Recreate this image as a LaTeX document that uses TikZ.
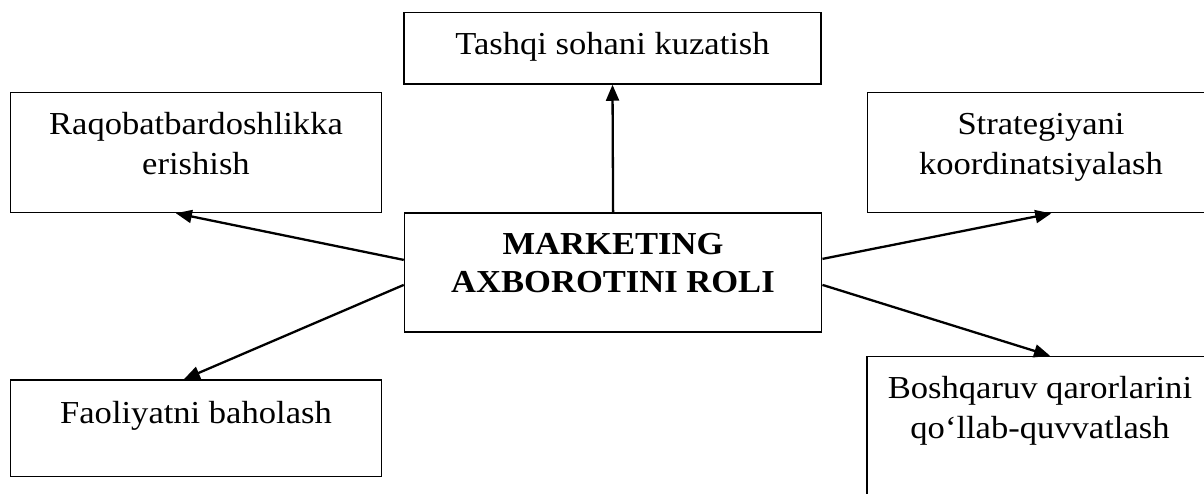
\documentclass[tikz,border=0pt]{standalone}
\usepackage{fontspec}
\setmainfont{Liberation Serif}[FakeStretch=1.08]
\usetikzlibrary{arrows.meta}
\begin{document}
\begin{tikzpicture}[x=1pt,y=-1pt,
  boxnode/.style={draw=black, line width=1.5pt, rectangle, inner sep=0pt},
  txt/.style={anchor=base, inner sep=0pt, font=\fontsize{32}{40.5}\selectfont},
  conn/.style={line width=2.3pt, -{Triangle[length=16pt,width=13pt]}}]
\useasboundingbox (0,0) rectangle (1204,494);
\fill[white] (0,0) rectangle (1204,494);
\clip (0,0) rectangle (1204,494);
% boxes
\node[boxnode, minimum width=417pt, minimum height=71.5pt] (t) at (612.5,48.25) {};
\node[boxnode, minimum width=371.2pt, minimum height=119.8pt] (r) at (195.9,152.6) {};
\node[boxnode, minimum width=417.2pt, minimum height=119.2pt] (c) at (613.1,272.4) {};
\node[boxnode, minimum width=347.5pt, minimum height=120pt] (s) at (1041.25,152.7) {};
\node[boxnode, minimum width=371.2pt, minimum height=96.7pt] (f) at (195.9,428.35) {};
\node[boxnode, minimum width=348pt, minimum height=173.5pt] (b) at (1041,443.25) {};
% texts
\node[txt] (tt) at (612.5,55) {Tashqi sohani kuzatish};
\node[txt] (tr) at (196,134.5) {\parbox[t]{360pt}{\centering Raqobatbardoshlikka\\erishish}};
\node[txt] (tc) at (613,254.5) {\parbox[t]{400pt}{\centering\bfseries\baselineskip=38pt MARKETING\\AXBOROTINI ROLI}};
\node[txt] (ts) at (1041,134.5) {\parbox[t]{330pt}{\centering Strategiyani\\koordinatsiyalash}};
\node[txt] (tf) at (196,423) {Faoliyatni baholash};
\node[txt] (tb) at (1040,398) {\parbox[t]{340pt}{\centering Boshqaruv qarorlarini\\qo‘llab-quvvatlash}};
% connectors
\draw[conn] (c.north) -- (t.south);
\draw[conn] ([yshift=12.5pt]c.west) -- ([xshift=-20pt]r.south);
\draw[conn] ([yshift=-12.5pt]c.west) -- ([xshift=-12pt]f.north);
\draw[conn] ([yshift=13.5pt]c.east) -- ([xshift=10pt]s.south);
\draw[conn] ([yshift=-12.5pt]c.east) -- ([xshift=9pt]b.north);
\end{tikzpicture}
\end{document}
